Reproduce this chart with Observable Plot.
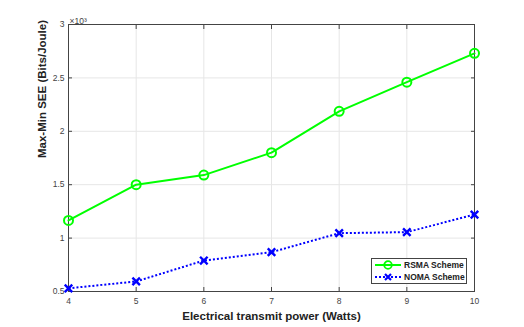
<!DOCTYPE html>
<html>
<head>
<meta charset="utf-8">
<script src="https://cdn.jsdelivr.net/npm/d3@7"></script>
<script src="https://cdn.jsdelivr.net/npm/@observablehq/plot@0.6"></script>
<style>
  html, body { margin: 0; padding: 0; background: #fff; }
  #wrap { position: relative; width: 524px; height: 327px; font-family: "Liberation Sans", Arial, sans-serif; }
  #legend { position: absolute; left: 371px; top: 258px; width: 96px; height: 26px; border: 1px solid #444; background: #fff; box-sizing: border-box; font-size: 8.5px; font-weight: bold; color: #222; }
  #legend .row { position: absolute; left: 2px; height: 12px; display: flex; align-items: center; white-space: nowrap; }
  #legend svg { margin-right: 2px; flex: none; }
</style>
</head>
<body>
<div id="wrap">
  <div id="chart"></div>
  <div id="legend">
    <div class="row" style="top:0px">
      <svg width="28" height="12"><line x1="1" y1="6" x2="27" y2="6" stroke="#00ff00" stroke-width="2"/><circle cx="14" cy="6" r="3.8" fill="none" stroke="#00ff00" stroke-width="1.8"/></svg>RSMA Scheme
    </div>
    <div class="row" style="top:12px">
      <svg width="28" height="12"><line x1="1" y1="6" x2="27" y2="6" stroke="#0000ff" stroke-width="2" stroke-dasharray="2,2"/><path d="M11,3L17,9M17,3L11,9" stroke="#0000ff" stroke-width="2.2"/></svg>NOMA Scheme
    </div>
  </div>
</div>
<script>
const power = [4, 5, 6, 7, 8, 9, 10];
const rsma = [1.165, 1.50, 1.59, 1.80, 2.187, 2.46, 2.73];
const noma = [0.53, 0.594, 0.79, 0.868, 1.046, 1.056, 1.22];
const xTicks = [4, 5, 6, 7, 8, 9, 10];
const yTicks = [0.5, 1, 1.5, 2, 2.5, 3];

const rsmaData = power.map((p, i) => ({p, v: rsma[i]}));
const nomaData = power.map((p, i) => ({p, v: noma[i]}));

const chart = Plot.plot({
  width: 524,
  height: 327,
  marginLeft: 68,
  marginRight: 50,
  marginTop: 24,
  marginBottom: 36,
  style: {fontFamily: "Liberation Sans, Arial, sans-serif", fontSize: "8.5px", color: "#333", background: "#fff"},
  x: {domain: [4, 10]},
  y: {domain: [0.5, 3]},
  marks: [
    Plot.gridX(xTicks, {stroke: "#e6e6e6", strokeOpacity: 1}),
    Plot.gridY(yTicks, {stroke: "#e6e6e6", strokeOpacity: 1}),
    Plot.axisX({ticks: xTicks, tickSize: -4, tickPadding: 10, stroke: "#444", label: null, fill: "#444", tickFormat: d => String(d)}),
    Plot.axisX({ticks: xTicks, anchor: "top", tickSize: -4, stroke: "#444", tickFormat: () => "", label: null}),
    Plot.axisY({ticks: yTicks, tickSize: -4, tickPadding: 8, stroke: "#444", label: null, fill: "#444", tickFormat: d => String(d)}),
    Plot.axisY({ticks: yTicks, anchor: "right", tickSize: -4, stroke: "#444", tickFormat: () => "", label: null}),
    Plot.frame({stroke: "#444", strokeWidth: 1}),
    Plot.text(["×10³"], {frameAnchor: "top-left", dx: 1, dy: -7, textAnchor: "start", fontSize: 8.5, fill: "#444"}),
    Plot.text(["Electrical transmit power (Watts)"], {frameAnchor: "bottom", dy: 28, fontSize: 11.5, fontWeight: "bold", fill: "#222"}),
    Plot.text(["Max-Min SEE (Bits/Joule)"], {frameAnchor: "left", dx: -26, rotate: -90, fontSize: 11.5, fontWeight: "bold", fill: "#222"}),
    Plot.line(rsmaData, {x: "p", y: "v", stroke: "#00ff00", strokeWidth: 2}),
    Plot.dot(rsmaData, {x: "p", y: "v", stroke: "#00ff00", fill: "none", r: 4.5, strokeWidth: 2}),
    Plot.line(nomaData, {x: "p", y: "v", stroke: "#0000ff", strokeWidth: 2, strokeDasharray: "2,2", strokeLinecap: "butt"}),
    Plot.dot(nomaData, {x: "p", y: "v", stroke: "#0000ff", symbol: "times", r: 3.5, strokeWidth: 2.4})
  ]
});
document.getElementById("chart").appendChild(chart);
</script>
</body>
</html>
